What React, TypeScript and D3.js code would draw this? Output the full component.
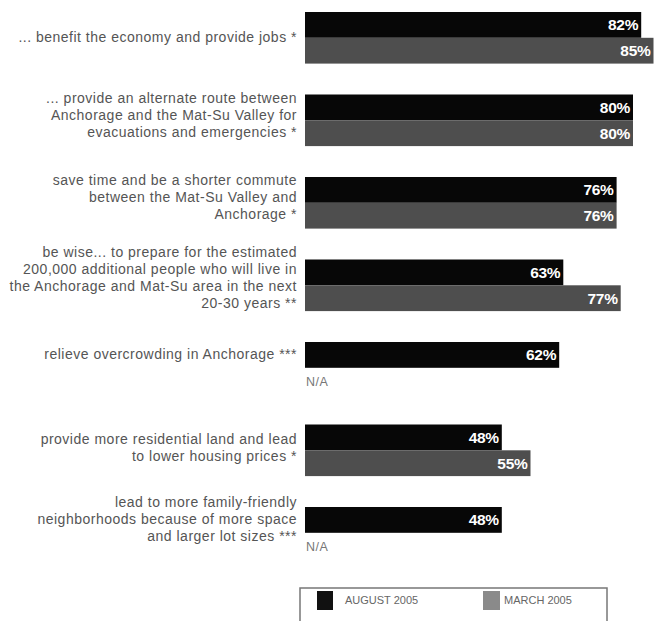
import React from "react";
import * as d3 from "d3";

const categories: string[][] = [
  ["... benefit the economy and provide jobs *"],
  ["... provide an alternate route between", "Anchorage and the Mat-Su Valley for", "evacuations and emergencies *"],
  ["save time and be a shorter commute", "between the Mat-Su Valley and", "Anchorage *"],
  ["be wise... to prepare for the estimated", "200,000 additional people who will live in", "the Anchorage and Mat-Su area in the next", "20-30 years **"],
  ["relieve overcrowding in Anchorage ***"],
  ["provide more residential land and lead", "to lower housing prices *"],
  ["lead to more family-friendly", "neighborhoods because of more space", "and larger lot sizes ***"],
];
const august: number[] = [82, 80, 76, 63, 62, 48, 48];
const march: (number | null)[] = [85, 80, 76, 77, null, 55, null];
const seriesNames = ["AUGUST 2005", "MARCH 2005"];

const W = 655;
const H = 621;
const BAR_H = 25.8;
const LABEL_FONT = "'Liberation Sans Narrow', 'Arial Narrow', 'Liberation Sans', Arial, sans-serif";

export default function App() {
  const x = d3.scaleLinear().domain([0, 100]).range([305, 715]);
  const y = d3
    .scaleBand<number>()
    .domain(d3.range(categories.length))
    .range([12, 12 + categories.length * 82.5])
    .paddingInner(0)
    .paddingOuter(0);

  return (
    <svg
      width={W}
      height={H}
      style={{ position: "absolute", left: 0, top: 0, background: "#fff" }}
      fontFamily={LABEL_FONT}
    >
      <rect x={0} y={0} width={W} height={H} fill="#ffffff" />
      {categories.map((lines, i) => {
        const top = y(i)!;
        const hasMarch = march[i] !== null;
        const n = lines.length;
        const center = hasMarch ? top + BAR_H - (n - 1) * 2.5 : top + BAR_H / 2;
        return (
          <g key={i}>
            {lines.map((ln, j) => (
              <text
                key={j}
                x={297}
                y={center + (j - (n - 1) / 2) * 17 + 4.5}
                textAnchor="end"
                fontSize={14}
                letterSpacing={0.5}
                fill="#555"
              >
                {ln}
              </text>
            ))}
            <rect x={x(0)} y={top} width={x(august[i]) - x(0)} height={BAR_H} fill="#070707" />
            <text
              x={x(august[i]) - 3}
              y={top + BAR_H / 2 + 5.5}
              textAnchor="end"
              fontSize={15.5}
              fontWeight="bold"
              letterSpacing={-0.3}
              fill="#fff"
            >
              {august[i]}%
            </text>
            {hasMarch ? (
              <g>
                <rect
                  x={x(0)}
                  y={top + BAR_H}
                  width={x(march[i] as number) - x(0)}
                  height={BAR_H}
                  fill="#4e4e4e"
                />
                <text
                  x={x(march[i] as number) - 3}
                  y={top + BAR_H * 1.5 + 5.5}
                  textAnchor="end"
                  fontSize={15.5}
                  fontWeight="bold"
                  letterSpacing={-0.3}
                  fill="#fff"
                >
                  {march[i]}%
                </text>
              </g>
            ) : (
              <text x={x(0) + 1} y={top + BAR_H * 1.5 + 5} fontSize={12.5} letterSpacing={0.5} fill="#777">
                N/A
              </text>
            )}
          </g>
        );
      })}
      <g>
        <rect x={300} y={588} width={307} height={60} fill="none" stroke="#777" strokeWidth={1.5} />
        <rect x={317} y={591} width={16} height={19} fill="#111" />
        <text x={345} y={604} fontSize={11} fill="#666">
          {seriesNames[0]}
        </text>
        <rect x={483} y={591} width={17} height={19} fill="#8a8a8a" />
        <text x={504} y={604} fontSize={11} fill="#666">
          {seriesNames[1]}
        </text>
      </g>
    </svg>
  );
}
